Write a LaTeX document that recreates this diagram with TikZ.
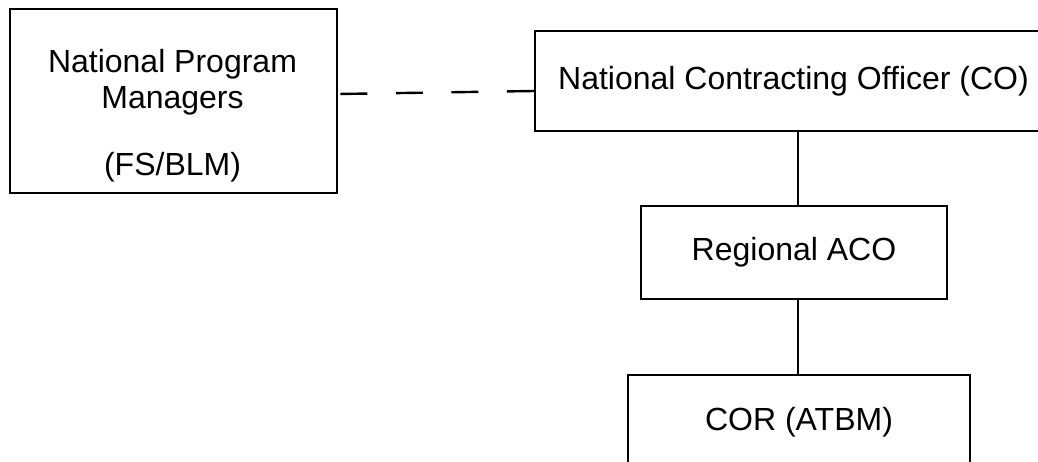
\documentclass[tikz,border=0pt]{standalone}
\usepackage{fontspec}
\setmainfont{Liberation Sans}
\begin{document}
\begin{tikzpicture}[x=1pt,y=-1pt,
  orgbox/.style={draw=black, line width=2.4pt, rectangle, inner sep=0pt,
    font=\fontsize{32}{36}\selectfont, align=center},
  orgtext/.style={inner sep=0pt, font=\fontsize{32}{36}\selectfont, align=center},
  link/.style={draw=black, line width=2.4pt}]
  \useasboundingbox (0,0) rectangle (1038,462);
  \clip (0,0) rectangle (1038,462);

  % program managers (box with its own text block)
  \node[orgbox, minimum width=327pt, minimum height=184pt] (npm) at (173.5,101) {};
  \node[orgtext] (npmtext) at (172.5,116) {National Program\\Managers\\[31pt](FS/BLM)};

  % contracting chain
  \node[orgbox, minimum width=517pt, minimum height=100pt] (co) at (793.5,81)
    {National Contracting Officer (CO)};
  \node[orgbox, minimum width=306pt, minimum height=93pt] (reg) at (794,252.5)
    {Regional ACO};
  \node[orgbox, minimum width=342pt, minimum height=94pt] (cor) at (799,422)
    {COR (ATBM)};

  % connectors
  \draw[link, dash pattern=on 27pt off 28.5pt] ([yshift=-10pt]co.west) -- ([yshift=7pt]npm.east);
  \draw[link] ([xshift=4.5pt]co.south) -- ([xshift=4pt]reg.north);
  \draw[link] ([xshift=4pt]reg.south) -- ([xshift=-1pt]cor.north);
\end{tikzpicture}
\end{document}
